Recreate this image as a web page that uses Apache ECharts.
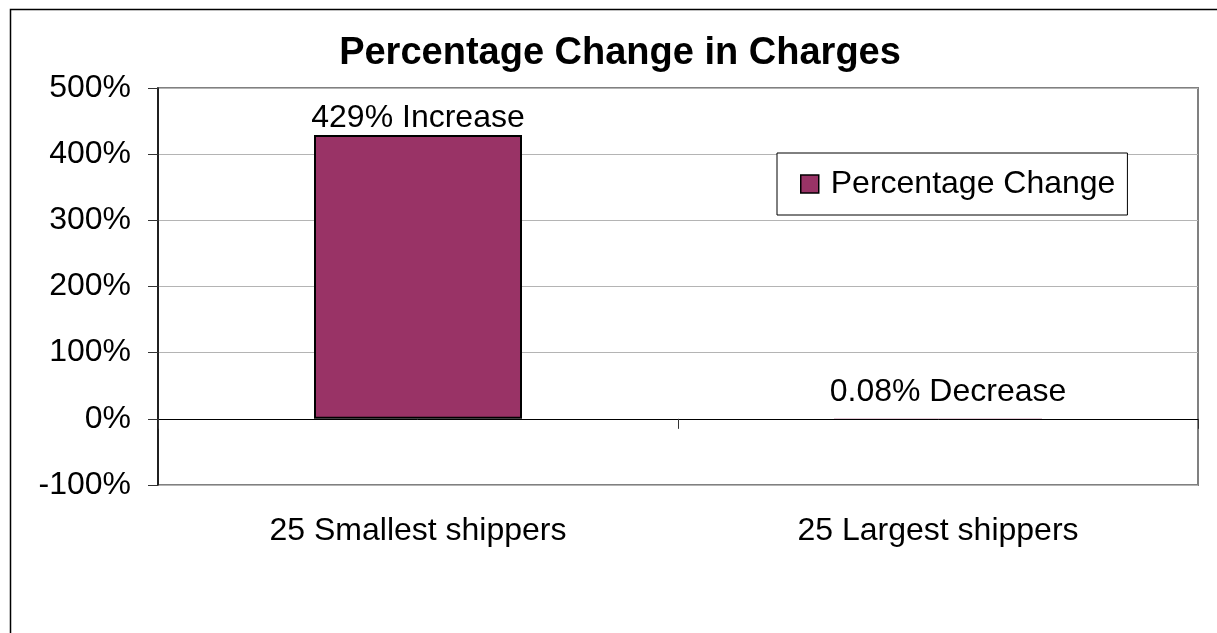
<!DOCTYPE html>
<html>
<head>
<meta charset="utf-8">
<script src="https://cdn.jsdelivr.net/npm/echarts@6/dist/echarts.min.js"></script>
<style>
  html, body { margin: 0; padding: 0; background: #ffffff; }
  #chart { width: 1217px; height: 633px; }
</style>
</head>
<body>
<div id="chart"></div>
<script>
// Shipper groups and their percentage change in charges
const categories = ['25 Smallest shippers', '25 Largest shippers'];
const changeValues = [429, -0.08];
const valueLabels = ['429% Increase', '0.08% Decrease'];
const seriesName = 'Percentage Change';
const chartTitle = 'Percentage Change in Charges';

const FONT = '"Liberation Sans", Arial, Helvetica, sans-serif';
const BAR_COLOR = '#993366';

const chart = echarts.init(document.getElementById('chart'), null, { renderer: 'canvas' });

// The second bar is almost flat; its outline is left off so only the zero line shows
const barData = changeValues.map((v, i) => ({
  value: v,
  itemStyle: i === 0 ? {} : { borderWidth: 0 },
  label: i === 0
    ? { position: 'top', distance: 1 }
    : { position: 'top', distance: 11, offset: [10, 0] }
}));

chart.setOption({
  backgroundColor: '#ffffff',
  animation: false,
  title: {
    text: chartTitle,
    left: 615,
    textAlign: 'center',
    top: 30,
    textStyle: { fontFamily: FONT, fontSize: 38, fontWeight: 'bold', color: '#000' }
  },
  legend: {
    data: [seriesName],
    left: 777,
    top: 153,
    orient: 'horizontal',
    backgroundColor: '#ffffff',
    borderColor: '#000000',
    borderWidth: 1,
    borderRadius: 0,
    padding: [15, 12, 15, 23],
    itemWidth: 18,
    itemHeight: 18,
    icon: 'rect',
    itemStyle: { borderColor: '#000', borderWidth: 1.5 },
    textStyle: { fontFamily: FONT, fontSize: 32, color: '#000', padding: [0, 0, 0, 7] }
  },
  grid: {
    left: 158,
    right: 19,
    top: 88,
    bottom: 148,
    show: true,
    backgroundColor: 'transparent',
    borderColor: '#808080',
    borderWidth: 2,
    containLabel: false
  },
  xAxis: [
    {
      type: 'category',
      data: categories,
      position: 'bottom',
      axisLine: { show: false, onZero: false },
      axisTick: { show: false },
      axisLabel: { fontFamily: FONT, fontSize: 32, color: '#000', margin: 30 },
      splitLine: { show: false }
    },
    {
      type: 'category',
      data: categories,
      position: 'bottom',
      axisLine: { show: true, onZero: true, lineStyle: { color: '#000', width: 1 } },
      axisTick: { show: true, length: 10, inside: false, lineStyle: { color: '#333', width: 1 } },
      axisLabel: { show: false },
      splitLine: { show: false }
    }
  ],
  yAxis: {
    type: 'value',
    min: -100,
    max: 500,
    interval: 100,
    axisLine: { show: true, lineStyle: { color: '#000', width: 1.5 } },
    axisTick: { show: true, length: 10, lineStyle: { color: '#333', width: 1 } },
    axisLabel: {
      fontFamily: FONT, fontSize: 32, color: '#000', margin: 27,
      formatter: '{value}%'
    },
    splitLine: { show: true, lineStyle: { color: '#b4b4b4', width: 1 } }
  },
  series: [
    {
      name: seriesName,
      type: 'bar',
      xAxisIndex: 0,
      data: barData,
      barWidth: '40%',
      itemStyle: { color: BAR_COLOR, borderColor: '#000', borderWidth: 2 },
      label: {
        show: true,
        fontFamily: FONT,
        fontSize: 32,
        color: '#000',
        formatter: (p) => valueLabels[p.dataIndex]
      }
    }
  ],
  graphic: [
    {
      type: 'rect',
      left: 8,
      top: 7,
      shape: { width: 1240, height: 700 },
      style: { fill: 'none', stroke: '#000', lineWidth: 1.5 },
      silent: true,
      z: 100
    }
  ]
});
</script>
</body>
</html>
